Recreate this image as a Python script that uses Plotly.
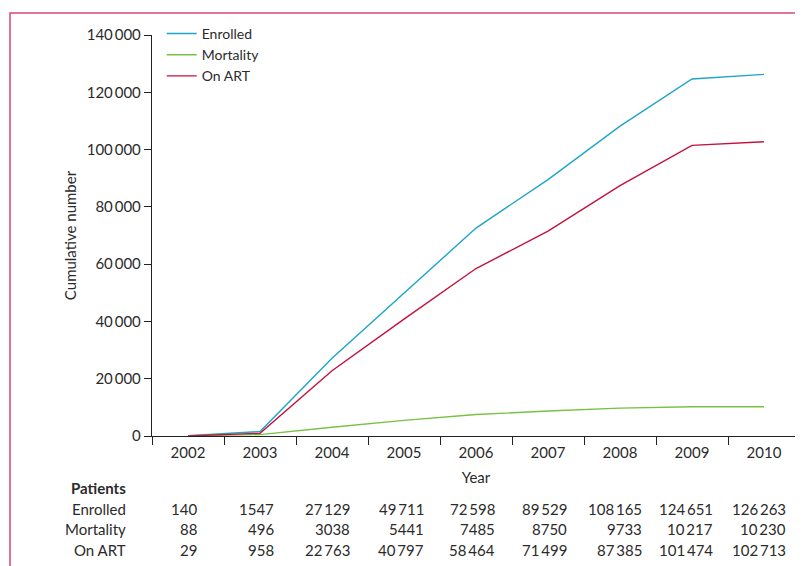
import plotly.graph_objects as go

years = ["2002", "2003", "2004", "2005", "2006", "2007", "2008", "2009", "2010"]
enrolled = [140, 1547, 27129, 49711, 72598, 89529, 108165, 124651, 126263]
mortality = [88, 496, 3038, 5441, 7485, 8750, 9733, 10217, 10230]
on_art = [29, 958, 22763, 40797, 58464, 71499, 87385, 101474, 102713]

series_names = ["Enrolled", "Mortality", "On ART"]
series_values = [enrolled, mortality, on_art]
series_colors = ["#1ea5c8", "#78c143", "#c3123f"]

y_ticks = [0, 20000, 40000, 60000, 80000, 100000, 120000, 140000]

FONT = "Lato"
TXT = "#2b2b2b"
FS = 15

# page offset (browser body margin)
OFF = 8
L, T, R_EDGE, B_EDGE = 152 - OFF, 34 - OFF, 800 - OFF, 436 - OFF
PW, PH = R_EDGE - L, B_EDGE - T


def fmt(v):
    s = f"{v:,}"
    if v >= 10000:
        return s.replace(",", "\u2009")
    return s.replace(",", "")


def xpaper(px):
    return (px - OFF - L) / PW


def ypaper(py):
    return (B_EDGE - (py - OFF)) / PH


fig = go.Figure()
for name, vals, col in zip(series_names, series_values, series_colors):
    fig.add_trace(go.Scatter(x=years, y=vals, mode="lines", name=name,
                             line=dict(color=col, width=1.4)))

fig.update_layout(
    width=803, height=566,
    margin=dict(l=L, r=803 - R_EDGE, t=T, b=566 - B_EDGE),
    paper_bgcolor="white", plot_bgcolor="white",
    font=dict(family=FONT, size=FS, color=TXT),
    showlegend=True,
    legend=dict(x=0.015, y=1.04, xanchor="left", yanchor="top",
                bgcolor="rgba(0,0,0,0)", font=dict(size=14, color=TXT),
                tracegroupgap=0, itemwidth=30),
    xaxis=dict(type="category", range=[-0.5, 8.5], tickson="boundaries",
               ticks="outside", ticklen=8, tickwidth=1.4, tickcolor="#222",
               showline=True, linecolor="#222", linewidth=1.4,
               showgrid=False, zeroline=False, ticklabelstandoff=3,
               tickfont=dict(size=FS, color=TXT),
               title=dict(text="Year", standoff=12, font=dict(size=FS, color=TXT))),
    yaxis=dict(range=[0, 140000], tickvals=y_ticks,
               ticktext=[fmt(v) for v in y_ticks],
               ticks="outside", ticklen=7, tickwidth=1.4, tickcolor="#222",
               showline=True, linecolor="#222", linewidth=1.4,
               showgrid=False, zeroline=False,
               tickfont=dict(size=FS, color=TXT),
               title=dict(text="Cumulative number", standoff=6,
                          font=dict(size=FS, color=TXT))),
)

# frame border
fig.add_shape(type="rect", xref="paper", yref="paper",
              x0=xpaper(10), x1=1.2, y0=-0.6, y1=ypaper(12),
              line=dict(color="#d9467a", width=1.5), layer="below")

# table beneath the chart
row_y = [509, 529, 550]
col_shift = [11, 16, 20, 22, 21, 21, 24, 23, 24]

fig.add_annotation(text="<b>Patients</b>", xref="paper", yref="paper",
                   x=xpaper(128), y=ypaper(488), xanchor="right",
                   yanchor="middle", showarrow=False,
                   font=dict(size=FS, color=TXT))
for name, vals, ry in zip(series_names, series_values, row_y):
    fig.add_annotation(text=name, xref="paper", yref="paper",
                       x=xpaper(128), y=ypaper(ry), xanchor="right",
                       yanchor="middle", showarrow=False,
                       font=dict(size=FS, color=TXT))
    for i, (v, sh) in enumerate(zip(vals, col_shift)):
        fig.add_annotation(text=fmt(v), xref="x", yref="paper",
                           x=i, y=ypaper(ry), xshift=sh, xanchor="right",
                           yanchor="middle", showarrow=False,
                           font=dict(size=FS, color=TXT))

fig.write_html("out.html")
